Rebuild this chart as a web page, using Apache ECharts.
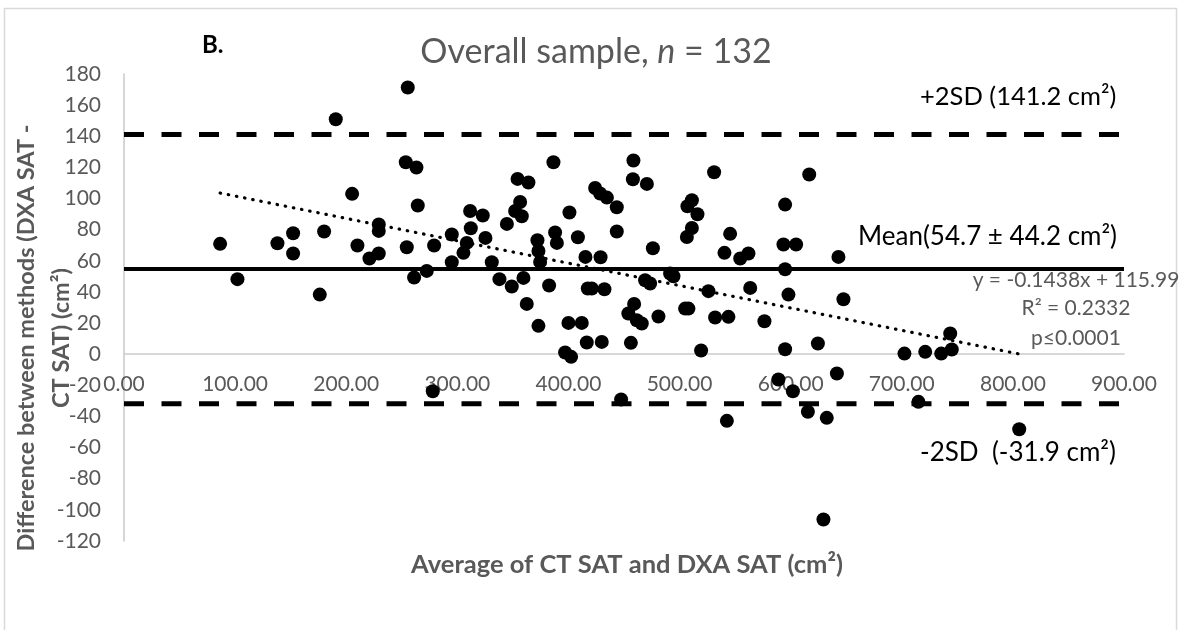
<!DOCTYPE html>
<html>
<head>
<meta charset="utf-8">
<script src="https://cdn.jsdelivr.net/npm/echarts@6/dist/echarts.min.js"></script>
<style>
html,body{margin:0;padding:0;background:#fff;}
#chart{width:1186px;height:630px;}
</style>
</head>
<body>
<div id="chart"></div>
<script>
// ---- Data ----
const avgValues = [
  255.4,190.6,253.6,263.2,205.3,264.4,86.5,138.1,152.2,152.2,
  180.1,210.1,229.3,229.3,229.3,220.9,254.5,102.1,176.2,261.1,
  272.5,279.1,277.9,295.0,295.0,311.5,322.9,312.1,308.5,305.5,
  325.3,331.0,337.9,349.0,344.6,354.2,364.0,356.5,352.0,358.0,
  359.5,362.5,372.1,373.0,374.5,373.0,382.6,386.5,388.0,389.6,
  400.9,408.5,415.3,417.4,400.0,412.0,416.5,397.0,402.4,424.0,
  428.5,434.6,443.5,443.5,428.9,432.4,430.0,458.5,458.0,470.6,
  476.0,469.0,473.5,459.1,453.9,461.5,466.0,481.0,456.2,447.4,
  491.5,494.5,531.1,616.7,511.1,507.1,516.1,511.1,506.6,545.5,
  540.4,554.6,562.0,595.0,593.5,604.9,595.0,598.0,643.0,647.5,
  526.0,563.6,505.0,508.0,532.0,544.0,576.4,519.4,595.0,624.5,
  641.6,702.4,589.0,602.0,615.5,632.5,542.6,629.5,743.6,721.1,
  735.5,745.0,715.0,805.7,421.0
];
const diffValues = [
  171.3,150.9,123.3,119.9,103.0,95.5,70.9,71.3,77.7,64.7,
  78.8,69.8,83.3,79.2,64.7,61.5,68.7,48.2,38.3,49.3,
  53.5,69.8,-23.8,76.9,59.1,92.0,89.1,80.9,71.5,65.1,
  74.7,59.1,48.2,43.5,83.7,112.6,110.3,97.8,92.0,88.6,
  49.0,32.3,73.2,66.3,59.3,18.2,44.1,123.3,78.2,71.5,
  91.0,75.1,62.5,42.2,20.1,20.1,7.5,1.1,-1.7,106.8,
  103.2,100.6,94.4,78.8,62.3,41.7,7.9,124.4,112.4,109.4,
  68.1,47.5,45.4,32.3,26.1,21.8,19.7,24.2,7.3,-29.1,
  51.8,50.1,116.9,115.4,98.9,95.0,89.9,81.1,75.3,77.3,
  65.1,61.5,64.7,96.1,70.5,70.5,54.6,38.3,62.5,35.3,
  40.5,42.6,29.3,29.3,23.6,24.0,21.2,2.4,3.2,6.9,
  -12.4,0.4,-16.3,-23.8,-37.0,-40.9,-42.8,-106.2,13.3,1.5,
  0.4,3.0,-30.6,-48.2,42.2
];
const MEAN = 54.7;
const SD = 44.2;
const UPPER = 141.2;
const LOWER = -31.9;
const SLOPE = -0.1438;
const INTERCEPT = 115.99;
const R2 = 0.2332;
const N = 132;
const X_MIN = 0, X_MAX = 900, X_STEP = 100;
const Y_MIN = -120, Y_MAX = 180, Y_STEP = 20;

// ---- Build ----
const points = avgValues.map((x, i) => [x, diffValues[i]]);
const xLo = Math.min(...avgValues), xHi = Math.max(...avgValues);
const trend = [[xLo, SLOPE * xLo + INTERCEPT], [xHi, SLOPE * xHi + INTERCEPT]];

const FONT = 'Lato, "Noto Sans", sans-serif';
const GREY = '#595959';
const GRID_H = 467;
// x axis crosses at y = 0: shift it up from the bottom of the grid
const X_AXIS_OFFSET = -((0 - Y_MIN) / (Y_MAX - Y_MIN)) * GRID_H;

const chart = echarts.init(document.getElementById('chart'), null, {renderer: 'canvas'});
chart.setOption({
  animation: false,
  backgroundColor: '#fff',
  grid: {left: 124, top: 74, width: 1000, height: GRID_H, containLabel: false},
  xAxis: {
    type: 'value', min: X_MIN, max: X_MAX, interval: X_STEP,
    position: 'bottom', offset: X_AXIS_OFFSET,
    axisLine: {show: true, onZero: false, lineStyle: {color: '#cccccc', width: 1.6}},
    axisTick: {show: false},
    splitLine: {show: false},
    axisLabel: {color: GREY, fontSize: 21, fontFamily: FONT, margin: 20,
      formatter: v => v.toFixed(2)}
  },
  yAxis: {
    type: 'value', min: Y_MIN, max: Y_MAX, interval: Y_STEP,
    axisLine: {show: true, onZero: false, lineStyle: {color: '#cccccc', width: 1.6}},
    axisTick: {show: false},
    splitLine: {show: false},
    axisLabel: {color: GREY, fontSize: 21, fontFamily: FONT, margin: 23}
  },
  series: [
    {type: 'line', data: [[X_MIN, MEAN], [X_MAX, MEAN]], symbol: 'none', silent: true, z: 2,
      lineStyle: {color: '#000', width: 4}},
    {type: 'line', data: [[X_MIN, UPPER], [X_MAX, UPPER]], symbol: 'none', silent: true, z: 2,
      lineStyle: {color: '#000', width: 5, type: [20, 17.5]}},
    {type: 'line', data: [[X_MIN, LOWER], [X_MAX, LOWER]], symbol: 'none', silent: true, z: 2,
      lineStyle: {color: '#000', width: 5, type: [20, 17.5]}},
    {type: 'scatter', data: points, symbol: 'circle', symbolSize: 14, z: 3,
      itemStyle: {color: '#000', opacity: 1}},
    {type: 'line', data: trend, symbol: 'none', silent: true, z: 4,
      lineStyle: {color: '#000', width: 3.2, type: [0.5, 7.8], cap: 'round'}}
  ],
  graphic: [
    {type: 'rect', silent: true, z: -1,
      shape: {x: 4.5, y: 8.5, width: 1172, height: 640},
      style: {fill: 'none', stroke: '#d9d9d9', lineWidth: 1.5}},
    {type: 'text', x: 202, y: 45, style: {text: 'B.', fill: '#000',
      font: 'bold 24px ' + FONT, textAlign: 'left', textVerticalAlign: 'middle'}},
    {type: 'text', x: 596, y: 52, style: {
      text: 'Overall sample, {i|n} = ' + N,
      fill: GREY, font: '34px ' + FONT, textAlign: 'center', textVerticalAlign: 'middle',
      rich: {i: {fontStyle: 'italic', fontSize: 34, fontFamily: 'Lato', fill: GREY}}}},
    {type: 'text', x: 920, y: 97, style: {text: '+2SD (' + UPPER + ' cm²)', fill: '#000',
      font: '25.5px ' + FONT, textAlign: 'left', textVerticalAlign: 'middle'}},
    {type: 'text', x: 858, y: 237, style: {text: 'Mean(' + MEAN + ' ± ' + SD + ' cm²)', fill: '#000',
      font: '26px ' + FONT, textAlign: 'left', textVerticalAlign: 'middle'}},
    {type: 'text', x: 1076, y: 280, style: {text: 'y = ' + SLOPE + 'x + ' + INTERCEPT, fill: GREY,
      font: '21px ' + FONT, textAlign: 'center', textVerticalAlign: 'middle'}},
    {type: 'text', x: 1076, y: 308, style: {text: 'R² = ' + R2, fill: GREY,
      font: '21px ' + FONT, textAlign: 'center', textVerticalAlign: 'middle'}},
    {type: 'text', x: 1076, y: 338, style: {text: 'p≤0.0001', fill: GREY,
      font: '21px ' + FONT, textAlign: 'center', textVerticalAlign: 'middle'}},
    {type: 'text', x: 920, y: 453, style: {text: '-2SD  (' + LOWER + ' cm²)', fill: '#000',
      font: '26px ' + FONT, textAlign: 'left', textVerticalAlign: 'middle'}},
    {type: 'text', x: 627, y: 565, style: {text: 'Average of CT SAT and DXA SAT (cm²)', fill: GREY,
      font: 'bold 25.5px ' + FONT, textAlign: 'center', textVerticalAlign: 'middle'}},
    {type: 'text', x: 44, y: 338, rotation: Math.PI / 2, style: {
      text: 'Difference between methods (DXA SAT -\nCT SAT) (cm²)', fill: GREY,
      font: 'bold 23.5px ' + FONT, lineHeight: 35, textAlign: 'center', textVerticalAlign: 'middle'}}
  ]
});
</script>
</body>
</html>
